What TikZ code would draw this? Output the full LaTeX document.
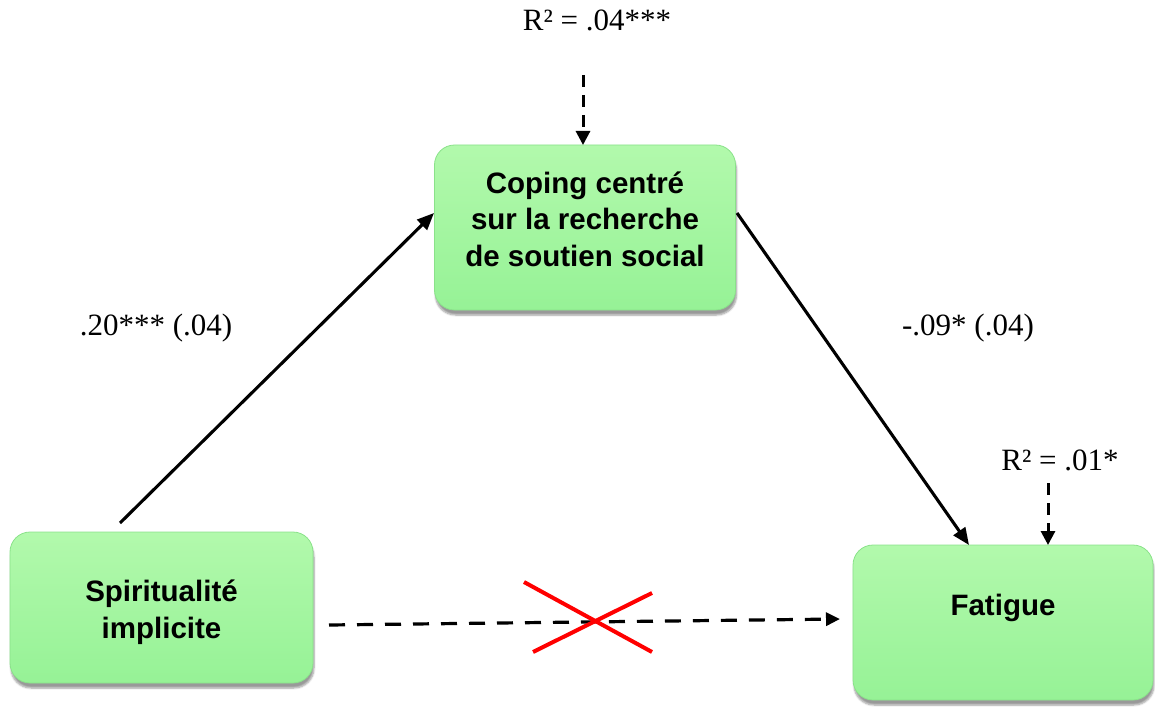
\documentclass[tikz,border=0pt]{standalone}
\usepackage{fontspec}
\setmainfont{Liberation Serif}
\newfontfamily\boxfont{Liberation Sans}
\usetikzlibrary{arrows.meta,shadows.blur}
\definecolor{gtop}{RGB}{178,249,172}
\definecolor{gmid}{RGB}{154,246,152}
\definecolor{gbot}{RGB}{150,242,150}
\definecolor{grim}{RGB}{138,226,138}
\tikzset{
  varbox/.style={rectangle, rounded corners=20pt, draw=grim, line width=0.8pt,
    top color=gtop, middle color=gmid, bottom color=gbot,
    blur shadow={shadow xshift=1pt, shadow yshift=-5pt, shadow blur steps=6, shadow opacity=40},
    inner sep=0pt},
  boxtext/.style={align=center, font=\boxfont\bfseries\fontsize{29.5}{36.5}\selectfont, inner sep=0pt},
  lab/.style={font=\fontsize{31}{36}\selectfont, inner sep=0pt},
  path/.style={line width=3.1pt, -{Triangle[length=17pt,width=14pt]}},
  dpath/.style={line width=3.2pt, dash pattern=on 16pt off 12pt, -{Triangle[length=14pt,width=13pt]}},
  vpath/.style={line width=3pt, dash pattern=on 12pt off 8pt, -{Triangle[length=14pt,width=14pt]}},
  cross/.style={red, line width=4pt}
}
\begin{document}
\begin{tikzpicture}[x=1pt,y=-1pt]
\useasboundingbox (0,0) rectangle (1155,711);
% boxes
\node[varbox, minimum width=301pt, minimum height=165pt] (coping) at (585,227.5) {};
\node[varbox, minimum width=303pt, minimum height=151pt] (spir) at (161.5,607.5) {};
\node[varbox, minimum width=300pt, minimum height=155pt] (fat) at (1003,622.5) {};
% texts
\node[boxtext] (copingt) at (585,219) {Coping centré\\sur la recherche\\de soutien social};
\node[boxtext] (spirt) at (161.5,612) {Spiritualité\\implicite};
\node[boxtext] (fatt) at (1003,608) {Fatigue};
% labels
\node[lab] (r2a) at (597,20) {R² = .04***};
\node[lab] (r2b) at (1060,460) {R² = .01*};
\node[lab] (ab) at (156,328) {.20*** (.04)};
\node[lab] (bc) at (968,328) {-.09* (.04)};
% coordinates for free ends
\coordinate (a1) at (120,523);
\coordinate (a1e) at (434,213);
\coordinate (a2s) at (737,213);
\coordinate (a2e) at (969,545);
\coordinate (r2as) at (583,75);
\coordinate (r2ae) at (583,145);
\coordinate (r2bs) at (1048,483);
\coordinate (r2be) at (1048,545);
\coordinate (cs) at (329,625);
\coordinate (ce) at (840,619);
% connectors
\draw[path] (a1) -- (a1e);
\draw[path] (a2s) -- (a2e);
\draw[vpath] (r2as) -- (r2ae);
\draw[vpath] (r2bs) -- (r2be);
\draw[dpath] (cs) -- (ce);
% red cross
\coordinate (x1) at (524,582);
\coordinate (x2) at (652,652);
\coordinate (x3) at (533,652);
\coordinate (x4) at (652,593);
\draw[cross] (x1) -- (x2);
\draw[cross] (x3) -- (x4);
\end{tikzpicture}
\end{document}
